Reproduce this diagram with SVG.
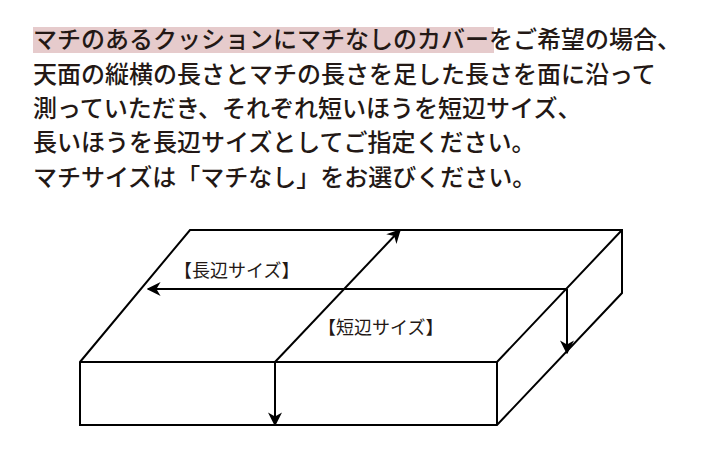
<svg xmlns="http://www.w3.org/2000/svg" width="720" height="457" viewBox="0 0 720 457">
<style>
.t{font-family:"Noto Sans CJK JP",sans-serif;font-size:24px;fill:#231815;font-weight:500}
.l{font-family:"Noto Sans CJK JP",sans-serif;font-size:18px;fill:#231815}
.e{fill:none;stroke:#000;stroke-width:2}
</style>
<defs><marker id="a" viewBox="0 0 10 10" refX="9" refY="5" markerWidth="14" markerHeight="14" markerUnits="userSpaceOnUse" orient="auto"><path d="M0,0L10,5L0,10L3,5z" fill="#000"/></marker></defs>
<rect x="33" y="27" width="461" height="26" fill="#e6cbcc"/>
<text class="t" x="33" y="48">マチのあるクッションにマチなしのカバーをご希望の場合、</text>
<text class="t" x="33" y="83">天面の縦横の長さとマチの長さを足した長さを面に沿って</text>
<text class="t" x="33" y="117">測っていただき、それぞれ短いほうを短辺サイズ、</text>
<text class="t" x="33" y="151">長いほうを長辺サイズとしてご指定ください。</text>
<text class="t" x="33" y="186">マチサイズは「マチなし」をお選びください。</text>
<g id="box">
<path class="e" d="M80,362L190,230H622V293L497,425H80ZM80,362H497L622,230M497,362V425"/>
</g>
<g id="connectors">
<path class="e" d="M567,289H148" marker-end="url(#a)"/>
<path class="e" d="M567,289V353" marker-end="url(#a)"/>
<path class="e" d="M275,362L400,230" marker-end="url(#a)"/>
<path class="e" d="M275,362V425" marker-end="url(#a)"/>
</g>
<g id="labels">
<text class="l" x="174" y="277">【長辺サイズ】</text>
<text class="l" x="318" y="334">【短辺サイズ】</text>
</g>
</svg>
